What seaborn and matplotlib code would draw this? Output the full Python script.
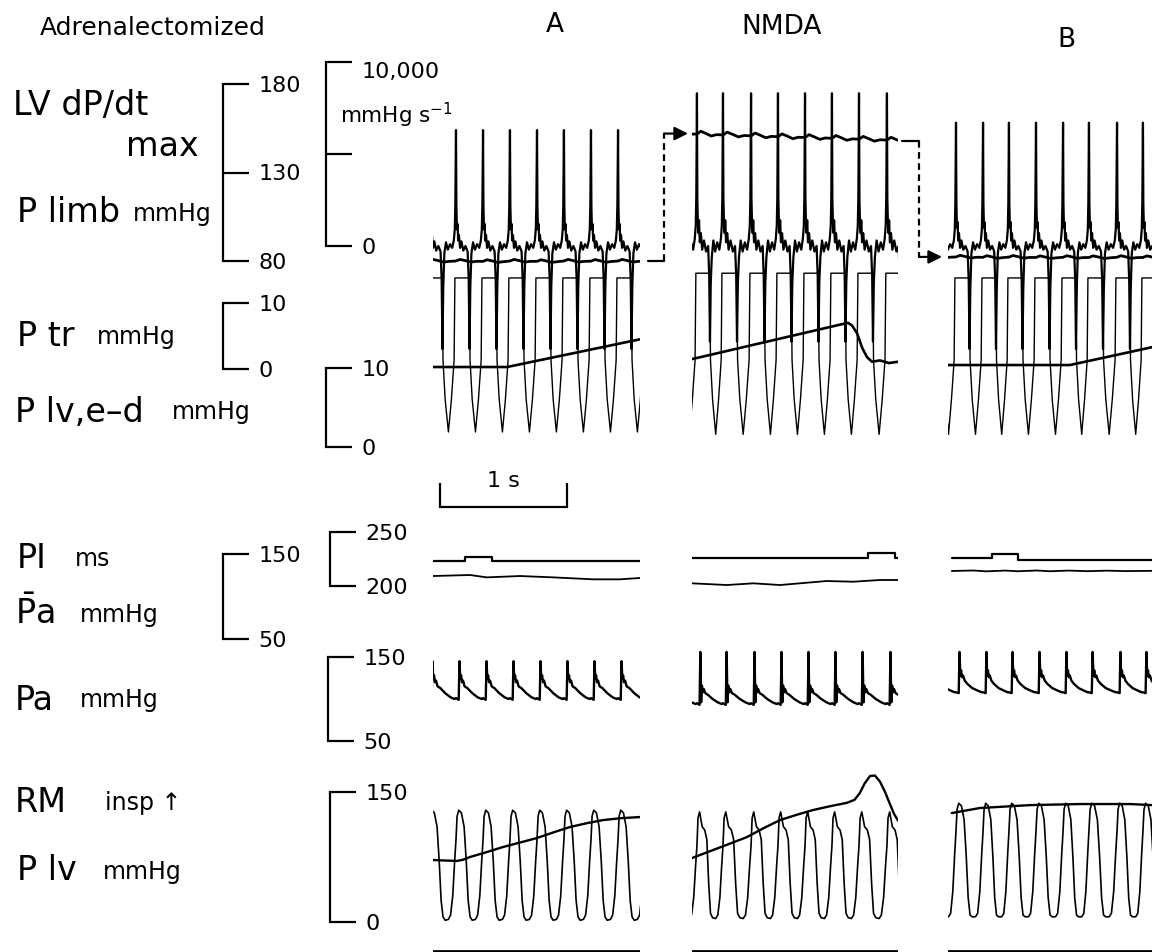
import numpy as np
import matplotlib
matplotlib.use("Agg")
import matplotlib.pyplot as plt
import seaborn as sns

# ---------------- values ----------------
# beat times (s) = peak LV dP/dt, one list per panel
BEATS_A = [-0.032, 0.181, 0.394, 0.606, 0.819, 1.031, 1.244, 1.457, 1.669]
BEATS_NMDA = [-0.174, 0.039, 0.244, 0.465, 0.677, 0.890, 1.102, 1.315, 1.535, 1.748]
BEATS_B = [-0.148, 0.063, 0.276, 0.480, 0.693, 0.906, 1.110, 1.331, 1.535, 1.745]

# LV dP/dt over one beat (fraction of beat, mmHg s-1)
DPDT_PHASE = [0.00, 0.015, 0.035, 0.06, 0.08, 0.11, 0.15, 0.20, 0.27, 0.35, 0.43, 0.47,
              0.50, 0.53, 0.57, 0.63, 0.70, 0.78, 0.86, 0.92, 0.955, 0.975, 0.99]
DPDT_A = [6300, 2200, 900, 1200, 300, 600, -100, 250, -250, 0, -300, -1800,
          -5600, -2200, -400, 200, -200, 100, -100, 300, 900, 2200, 4800]
DPDT_NMDA = [8300, 2600, 1300, 700, 1400, 200, 700, -200, 300, -300, 0, -1600,
             -5200, -2000, -600, 300, -300, 200, -200, 400, 1100, 2600, 6000]
DPDT_B = [6700, 2300, 1000, 1300, 300, 700, -100, 300, -200, 0, -300, -1900,
          -5600, -2300, -400, 200, -200, 100, -100, 300, 900, 2300, 5100]

# P limb: level per beat (mmHg) plus small ripple within the beat
PLIMB_PHASE = [0.0, 0.15, 0.35, 0.55, 0.75]
PLIMB_RIPPLE = [0.0, 0.9, 0.2, -0.6, -0.2]
PLIMB_RIPPLE_NMDA = [0.0, 1.6, 0.3, -1.1, -0.3]
PLIMB_A = [80.0, 80.0, 79.8, 80.0, 79.8, 80.0, 79.9, 80.0, 79.9]
PLIMB_NMDA = [152.0, 151.7, 151.2, 150.7, 150.2, 149.8, 149.3, 148.8, 148.3, 148.0]
PLIMB_B = [82.3, 82.3, 82.1, 82.2, 82.0, 82.1, 82.0, 82.1, 82.0, 82.0]

# LV pressure at high gain (mmHg, saturates above ~21)
LVHI_PHASE = [0.00, 0.49, 0.52, 0.60, 0.72, 0.83, 0.93, 0.96]
LVHI_A = [21.4, 21.4, 11, 6, 1.9, 6, 11, 21.4]
LVHI_NMDA = [22.0, 22.0, 11, 6, 1.6, 6, 11, 22.0]
LVHI_B = [21.4, 21.4, 11, 6, 1.6, 6, 11, 21.4]

# tracheal pressure (s, mmHg)
PTR_T_A = [0.0, 0.583, 1.630]
PTR_A = [0.3, 0.3, 4.5]
PTR_T_NMDA = [0.0, 1.228, 1.26, 1.300, 1.340, 1.378, 1.417, 1.480, 1.550, 1.622]
PTR_NMDA = [1.5, 7.0, 6.6, 5.4, 3.2, 1.8, 1.1, 1.3, 0.9, 1.1]
PTR_T_B = [0.0, 0.96, 1.606]
PTR_B = [0.6, 0.6, 3.3]

# pulse interval (s, ms)
PI_T_A = [0.0, 0.252, 0.465, 1.630]
PI_A = [223, 227, 223, 223]
PI_T_NMDA = [0.0, 1.386, 1.598, 1.622]
PI_NMDA = [226, 230.5, 226, 226]
PI_T_B = [0.03, 0.346, 0.551, 1.606]
PI_B = [225.5, 229.6, 224.2, 224.2]

# mean arterial pressure (s, mmHg)
PAM_T_A = [0.0, 0.291, 0.423, 0.685, 0.947, 1.262, 1.472, 1.630]
PAM_A = [124.1, 125.3, 122.5, 124.1, 122.5, 120.2, 120.2, 121.8]
PAM_T_NMDA = [0.0, 0.274, 0.483, 0.693, 0.903, 1.060, 1.270, 1.480, 1.622]
PAM_NMDA = [115.5, 113.5, 115.5, 113.5, 116.2, 118.2, 117.4, 119.4, 119.4]
PAM_T_B = [0.03, 0.2, 0.3, 0.45, 0.55, 0.7, 0.8, 0.95, 1.1, 1.25, 1.4, 1.606]
PAM_B = [130.0, 130.6, 129.6, 130.5, 129.7, 130.6, 129.7, 130.5, 129.8, 130.4, 129.9, 130.2]

# arterial pressure over one beat (mmHg)
PA_PHASE = [0.00, 0.10, 0.13, 0.16, 0.19, 0.22, 0.26, 0.32, 0.42, 0.60, 0.80, 0.95]
PA_A = [101, 99, 145, 124, 128, 120, 122, 115, 113, 107, 102, 100]
PA_NMDA = [95, 93, 156, 96, 116, 108, 112, 107, 105, 100, 96, 94]
PA_B = [108, 107, 156, 128, 134, 126, 128, 122, 118, 113, 110, 108]

# LV pressure over one beat (mmHg)
PLV_PHASE = [0.00, 0.04, 0.10, 0.20, 0.30, 0.38, 0.45, 0.52, 0.60, 0.72, 0.80, 0.88, 0.95]
PLV_A = [95, 122, 129, 126, 110, 70, 25, 6, 2, 3, 8, 30, 70]
PLV_NMDA = [88, 120, 127, 110, 106, 95, 45, 10, 5, 4, 8, 28, 65]
PLV_B = [105, 130, 137, 134, 118, 75, 28, 8, 6, 6, 10, 35, 78]

# respiratory movement, drawn on the P lv scale (s, value)
RM_T_A = [0.0, 0.12, 0.189, 0.24, 0.291, 0.42, 0.551, 0.68, 0.819, 0.95, 1.079, 1.21, 1.339, 1.48, 1.630]
RM_A = [71.5, 70.8, 70.4, 72.0, 75.0, 80.5, 86.5, 91.5, 96.9, 103.5, 109.6, 114.0, 117.6, 119.8, 121.1]
RM_T_NMDA = [0.0, 0.165, 0.30, 0.433, 0.56, 0.693, 0.82, 0.953, 1.10, 1.220, 1.280, 1.320, 1.360,
             1.402, 1.440, 1.480, 1.520, 1.559, 1.590, 1.622]
RM_NMDA = [73.8, 83.0, 90.5, 98.0, 108.0, 117.6, 123.5, 129.2, 134.0, 137.5, 141.0, 148.5, 160.0,
           168.5, 169.0, 162.0, 150.0, 136.0, 125.0, 117.0]
RM_T_B = [0.03, 0.25, 0.65, 1.04, 1.43, 1.606]
RM_B = [125.7, 131.5, 134.9, 136.1, 136.1, 134.9]

MARKER_LEVEL = -33  # event marker under P lv

# ---------------- layout (pixels of the 1152 x 952 figure) ----------------
W, H = 1152, 952
SEC_PX = 127
PANEL_PX = {"A": (433, 640), "NMDA": (692, 898), "B": (948, 1152)}
# channel calibration: (value, y pixel), (value, y pixel)
CAL = {
    "dpdt": ((10000, 62), (0, 246)),
    "limb": ((180, 84), (80, 261)),
    "ptr": ((10, 303), (0, 369)),
    "lvhi": ((10, 368), (0, 447)),
    "pi": ((250, 532), (200, 586)),
    "pam": ((150, 554), (50, 639)),
    "pa": ((150, 657), (50, 741)),
    "plv": ((150, 792), (0, 922)),
}

sns.set_theme(style="white")
plt.rcParams["font.family"] = ["DejaVu Sans"]
plt.rcParams["mathtext.fontset"] = "dejavusans"

fig = plt.figure(figsize=(W / 100, H / 100), dpi=100)


def tile(beats, phase, values, levels=None):
    periods = np.diff(beats)
    periods = np.append(periods, periods[-1])
    t, v = [], []
    for k, (b, p) in enumerate(zip(beats, periods)):
        for ph, val in zip(phase, values):
            t.append(b + ph * p)
            v.append(val + (levels[k] if levels is not None else 0))
    return np.array(t), np.array(v)


def trace_axes(panel, channel):
    x0, x1 = PANEL_PX[panel]
    (v1, y1), (v2, y2) = CAL[channel]
    ax = fig.add_axes([x0 / W, 0, (x1 - x0) / W, 1])
    s = (v1 - v2) / (y2 - y1)
    ax.set_ylim(v1 - (H - y1) * s, v1 + y1 * s)
    ax.set_xlim(0, (x1 - x0) / SEC_PX)
    ax.set_axis_off()
    return ax


def draw(ax, t, v, lw=1.4, **kw):
    sns.lineplot(x=np.asarray(t, float), y=np.asarray(v, float), ax=ax, color="black",
                 linewidth=lw, estimator=None, sort=False, **kw)
    ax.set_axis_off()


def bracket(x, channel, ticks, labels, tick_px=25, fs=16):
    (v1, y1), (v2, y2) = CAL[channel]
    ax = fig.add_axes([x / W, 1 - y2 / H, 0.5 / W, (y2 - y1) / H])
    ax.set_ylim(v2, v1)
    ax.patch.set_visible(False)
    ax.set_xticks([])
    for side in ("top", "bottom", "right"):
        ax.spines[side].set_visible(False)
    ax.spines["left"].set_visible(True)
    ax.spines["left"].set_color("black")
    ax.spines["left"].set_linewidth(1.6)
    ax.yaxis.tick_right()
    ax.set_yticks(ticks)
    ax.set_yticklabels(labels)
    ax.tick_params(axis="y", direction="out", length=tick_px * 0.72, width=1.6,
                   pad=7, labelsize=fs, colors="black", right=True, left=False)
    return ax


def label(x, y, s, fs, **kw):
    kw.setdefault("ha", "left")
    fig.text(x / W, 1 - y / H, s, fontsize=fs, va="center", color="black", **kw)


panels = [
    ("A", BEATS_A, DPDT_A, PLIMB_A, PLIMB_RIPPLE, LVHI_A, (PTR_T_A, PTR_A), (PI_T_A, PI_A),
     (PAM_T_A, PAM_A), PA_A, PLV_A, (RM_T_A, RM_A)),
    ("NMDA", BEATS_NMDA, DPDT_NMDA, PLIMB_NMDA, PLIMB_RIPPLE_NMDA, LVHI_NMDA, (PTR_T_NMDA, PTR_NMDA),
     (PI_T_NMDA, PI_NMDA), (PAM_T_NMDA, PAM_NMDA), PA_NMDA, PLV_NMDA, (RM_T_NMDA, RM_NMDA)),
    ("B", BEATS_B, DPDT_B, PLIMB_B, PLIMB_RIPPLE, LVHI_B, (PTR_T_B, PTR_B), (PI_T_B, PI_B),
     (PAM_T_B, PAM_B), PA_B, PLV_B, (RM_T_B, RM_B)),
]

limb_axes = {}
for name, beats, dpdt, limb, ripple, lvhi, ptr, pi, pam, pa, plv, rm in panels:
    ax = trace_axes(name, "dpdt")
    draw(ax, *tile(beats, DPDT_PHASE, dpdt), lw=1.6)

    ax = trace_axes(name, "limb")
    draw(ax, *tile(beats, PLIMB_PHASE, ripple, limb), lw=2.0)
    limb_axes[name] = ax

    ax = trace_axes(name, "ptr")
    draw(ax, *ptr, lw=1.9)

    ax = trace_axes(name, "lvhi")
    draw(ax, *tile(beats, LVHI_PHASE, lvhi), lw=1.0)

    ax = trace_axes(name, "pi")
    draw(ax, *pi, lw=1.6, drawstyle="steps-post")

    ax = trace_axes(name, "pam")
    draw(ax, *pam, lw=1.3)

    ax = trace_axes(name, "pa")
    draw(ax, *tile(beats, PA_PHASE, pa), lw=1.7)

    ax = trace_axes(name, "plv")
    draw(ax, *tile(beats, PLV_PHASE, plv), lw=1.2)
    draw(ax, *rm, lw=1.7)
    ax.axhline(MARKER_LEVEL, color="black", lw=2.0)


# dashed connectors showing the change of P limb between panels
def connector(panel, x_start, x_turn, x_tip, y_from, y_to):
    ax = limb_axes[panel]
    t = lambda px: (px - PANEL_PX[panel][0]) / SEC_PX
    ax.plot([t(x_start), t(x_turn)], [y_from, y_from], color="black", lw=1.6, clip_on=False)
    ax.plot([t(x_turn), t(x_turn)], [y_from, y_to], color="black", lw=1.6,
            ls=(0, (3, 2)), clip_on=False)
    ax.annotate("", xy=(t(x_tip), y_to), xytext=(t(x_turn), y_to), annotation_clip=False,
                arrowprops=dict(arrowstyle="-|>", color="black", lw=1.6, mutation_scale=20,
                                shrinkA=0, shrinkB=0))


connector("A", 648, 664, 688, PLIMB_A[-1], PLIMB_NMDA[0])
connector("NMDA", 902, 919, 942, PLIMB_NMDA[-1], PLIMB_B[0])

# calibration brackets
bracket(223, "limb", [80, 130, 180], ["80", "130", "180"])
bracket(326, "dpdt", [0, 5000, 10000], ["0", "", ""])
bracket(223, "ptr", [0, 10], ["0", "10"])
bracket(326, "lvhi", [0, 10], ["0", "10"])
bracket(223, "pam", [50, 150], ["50", "150"])
bracket(330, "pi", [200, 250], ["200", "250"])
bracket(328, "pa", [50, 150], ["50", "150"])
bracket(330, "plv", [0, 150], ["0", "150"])

# 1 s time bar
ax = fig.add_axes([440 / W, 1 - 507 / H, SEC_PX / W, 24 / H])
ax.set_xlim(0, 1)
ax.patch.set_visible(False)
for side in ("top", "left", "right"):
    ax.spines[side].set_visible(False)
ax.spines["bottom"].set_visible(True)
ax.spines["bottom"].set_color("black")
ax.spines["bottom"].set_linewidth(1.6)
ax.set_yticks([])
ax.set_xticks([0, 1])
ax.set_xticklabels(["", ""])
ax.tick_params(axis="x", direction="in", length=24 * 0.72, width=1.6, colors="black", bottom=True)
label(503, 481, "1 s", 16, ha="center")

# text
label(40, 28, "Adrenalectomized", 18)
label(555, 25, "A", 19, ha="center")
label(782, 27, "NMDA", 19, ha="center")
label(1066, 40, "B", 19, ha="center")

label(13, 106, "LV dP/dt", 24)
label(126, 147, "max", 24)
label(17, 212, "P limb", 24)
label(133, 214, "mmHg", 17)
label(362, 72, "10,000", 16)
label(340, 115, "mmHg s$^{-1}$", 15.5)
label(17, 336, "P tr", 24)
label(97, 337, "mmHg", 17)
label(15, 412, "P lv,e\u2013d", 24)
label(172, 412, "mmHg", 17)

label(17, 558, "PI", 24)
label(75, 559, "ms", 17)
label(15, 613, r"$\bar{\mathrm{P}}$a", 24)
label(80, 615, "mmHg", 17)
label(15, 700, "Pa", 24)
label(80, 700, "mmHg", 17)
label(15, 803, "RM", 24)
label(105, 803, "insp \u2191", 17)
label(17, 870, "P lv", 24)
label(103, 872, "mmHg", 17)

fig.savefig("out.png", dpi=100, facecolor="white")
